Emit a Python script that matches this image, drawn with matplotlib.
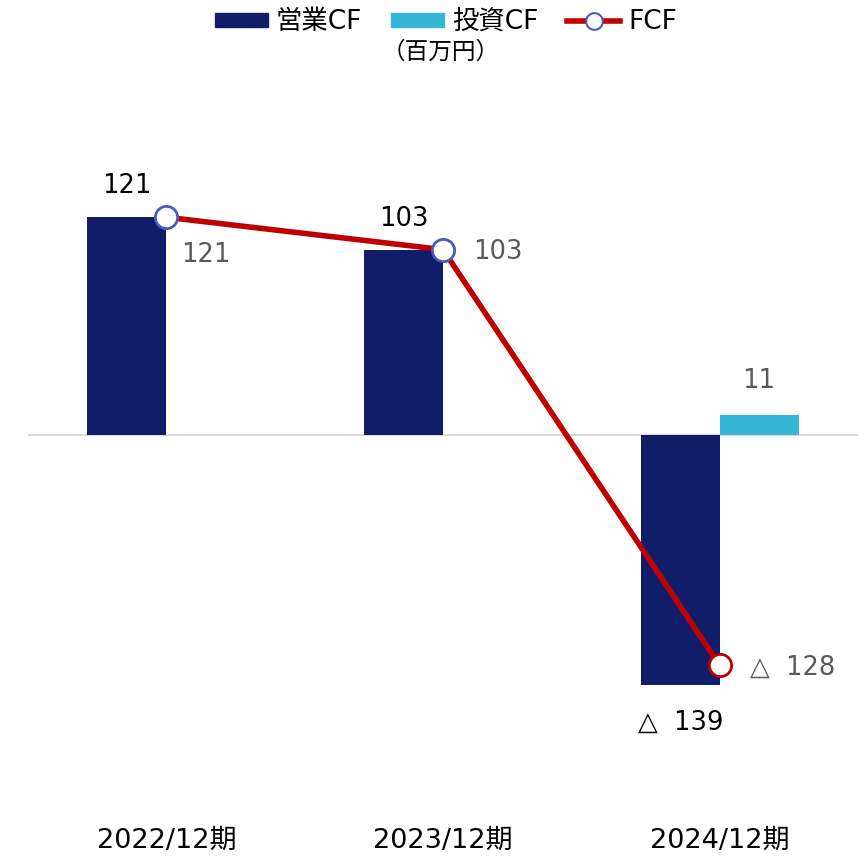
import matplotlib
matplotlib.use("Agg")
import matplotlib.pyplot as plt
from matplotlib.patches import Patch
from matplotlib.lines import Line2D
import numpy as np

plt.rcParams['font.family'] = ['DejaVu Sans', 'Noto Sans CJK JP']

categories = ['2022/12期', '2023/12期', '2024/12期']
op_cf = [121, 103, -139]
inv_cf = [0, 0, 11]
fcf = [121, 103, -128]

navy = '#121d6a'
cyan = '#35b6d5'
red = '#c00000'
gray = '#595959'

def fmt(v):
    return f'△  {abs(v)}' if v < 0 else str(v)

fig = plt.figure(figsize=(8.67, 8.57), dpi=100)
# axes: x 28..858 px, y 90..800 px (from top)
ax = fig.add_axes([28 / 867, 1 - 800 / 857, 830 / 867, 710 / 857])

x = np.arange(len(categories))
w = 0.285
ax.bar(x - w / 2, op_cf, w, color=navy, zorder=2)
ax.bar(x + w / 2, inv_cf, w, color=cyan, zorder=2)
ax.axhline(0, color='#d9d9d9', lw=1.5, zorder=1)
ax.plot(x, fcf, color=red, lw=4, zorder=3)
edges = ['#4a5ab5', '#4a5ab5', red]
for xi, v, ec in zip(x, fcf, edges):
    ax.plot(xi, v, 'o', ms=16, mfc='white', mec=ec, mew=2, zorder=4)

ax.set_xlim(-0.5, 2.5)
ax.set_ylim(-202.8, 191.7)
ax.axis('off')

fs = 18.5
# operating CF labels
for xi, v in zip(x, op_cf):
    if v >= 0:
        ax.annotate(fmt(v), (xi - w / 2, v), xytext=(0, 13), textcoords='offset points',
                    ha='center', va='bottom', fontsize=fs, color='black')
    else:
        ax.annotate(fmt(v), (xi - w / 2, v), xytext=(0, -18), textcoords='offset points',
                    ha='center', va='top', fontsize=fs, color='black')
# investing CF labels
for xi, v in zip(x, inv_cf):
    if v != 0:
        ax.annotate(fmt(v), (xi + w / 2, v), xytext=(0, 15), textcoords='offset points',
                    ha='center', va='bottom', fontsize=fs, color=gray)
# FCF labels
offsets = [(11, -27), (22, -2), (22, -2)]
for xi, v, off in zip(x, fcf, offsets):
    ax.annotate(fmt(v), (xi, v), xytext=off, textcoords='offset points',
                ha='left', va='center', fontsize=fs, color=gray)

# category labels
for xi, c in zip(x, categories):
    ax.text(xi, -0.057, c, transform=ax.get_xaxis_transform(), ha='center', va='center',
            fontsize=19.5, color='black')

handles = [Patch(color=navy), Patch(color=cyan),
           Line2D([], [], color=red, lw=4, marker='o', ms=12, mfc='white', mec='#4a5ab5', mew=1.5)]
fig.legend(handles, ['営業CF', '投資CF', 'FCF'], loc='center', bbox_to_anchor=(446 / 867, 1 - 22 / 857),
           ncol=3, frameon=False, fontsize=19, handlelength=2.0, handleheight=0.45,
           handletextpad=0.3, columnspacing=1.1)
fig.text(441 / 867, 1 - 52 / 857, '（百万円）', ha='center', va='center', fontsize=17)

fig.savefig('out.png', dpi=100)
